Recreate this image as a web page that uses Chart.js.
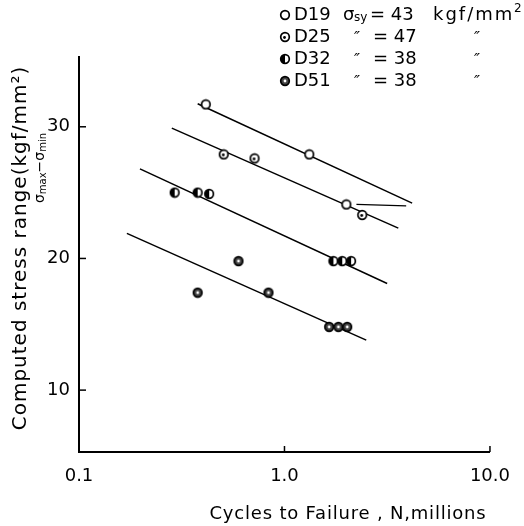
<!DOCTYPE html>
<html><head><meta charset="utf-8">
<script src="https://cdn.jsdelivr.net/npm/chart.js@4.4.1/dist/chart.umd.min.js"></script>
<style>html,body{margin:0;padding:0;background:#fff;}#wrap{position:relative;width:524px;height:526px;}</style>
</head><body><div id="wrap"><canvas id="c" width="524" height="526"></canvas></div>
<script>
// ---- data ----
const seriesNames = ["D19", "D25", "D32", "D51"];
const yieldStress = [43, 47, 38, 38];
const d19Cycles = [0.414, 1.32, 2.0];
const d19Stress = [31.7, 27.9, 24.1];
const d25Cycles = [0.506, 0.715, 2.39];
const d25Stress = [27.9, 27.6, 23.3];
const d32Cycles = [0.292, 0.378, 0.43, 1.73, 1.91, 2.11];
const d32Stress = [25.0, 25.0, 24.9, 19.8, 19.8, 19.8];
const d51Cycles = [0.378, 0.597, 0.836, 1.65, 1.83, 2.02];
const d51Stress = [17.4, 19.8, 17.4, 14.8, 14.8, 14.8];
const fit19Cycles = [0.378, 4.18];
const fit19Stress = [31.75, 24.2];
const fit25Cycles = [0.283, 3.58];
const fit25Stress = [29.9, 22.3];
const fit32Cycles = [0.198, 3.16];
const fit32Stress = [26.8, 18.1];
const fit51Cycles = [0.171, 2.5];
const fit51Stress = [21.9, 13.8];
const pointerCycles = [2.24, 3.91];
const pointerStress = [24.1, 24.0];
const xTickValues = [0.1, 1, 10];
const yTickValues = [10, 20, 30];

const FONT = "'DejaVu Sans', sans-serif";
const pts = (xs, ys) => xs.map((x, i) => ({x: x, y: ys[i]}));

function makeMarker(kind) {
  const c = document.createElement('canvas');
  c.width = 12; c.height = 12;
  const g = c.getContext('2d');
  g.lineWidth = 1.7; g.strokeStyle = '#000';
  g.beginPath(); g.arc(6, 6, 4.3, 0, Math.PI * 2);
  g.fillStyle = kind === 3 ? '#444' : '#fff';
  g.fill(); g.stroke();
  g.fillStyle = kind === 3 ? '#fff' : '#000';
  if (kind === 1) { g.beginPath(); g.arc(5.5, 6.5, 1.4, 0, Math.PI * 2); g.fill(); }
  if (kind === 2) { g.beginPath(); g.arc(6, 6, 4.3, Math.PI * 0.5, Math.PI * 1.5); g.fill(); }
  if (kind === 3) { g.beginPath(); g.arc(6, 6, 1.4, 0, Math.PI * 2); g.fill(); }
  return c;
}
const markers = [0, 1, 2, 3].map(makeMarker);

const lineDs = (xs, ys, w) => ({
  data: pts(xs, ys), showLine: true, pointRadius: 0, borderColor: '#000',
  borderWidth: w || 1.5, fill: false, order: 2
});
const ptDs = (name, xs, ys, k) => ({
  label: name, data: pts(xs, ys), showLine: false, pointStyle: markers[k],
  pointRadius: 5, order: 1
});

function spaced(ctx, px) { try { ctx.letterSpacing = px + 'px'; } catch (e) {} }

const decor = {
  id: 'decor',
  afterDraw(chart) {
    const ctx = chart.ctx, xs = chart.scales.x, ys = chart.scales.y, a = chart.chartArea;
    ctx.save();
    ctx.strokeStyle = '#000'; ctx.lineWidth = 1.5;
    yTickValues.forEach(v => { const p = ys.getPixelForValue(v); ctx.beginPath(); ctx.moveTo(a.left, p); ctx.lineTo(a.left + 7, p); ctx.stroke(); });
    xTickValues.slice(1).forEach(v => { const p = xs.getPixelForValue(v); ctx.beginPath(); ctx.moveTo(p, a.bottom); ctx.lineTo(p, a.bottom - 6); ctx.stroke(); });
    ctx.fillStyle = '#000';
    // x title
    ctx.font = '18px ' + FONT; ctx.textAlign = 'center'; ctx.textBaseline = 'middle';
    spaced(ctx, 0.8);
    ctx.fillText('Cycles to Failure , N,millions', 348, 514);
    // y title
    ctx.save(); ctx.translate(21, 248); ctx.rotate(-Math.PI / 2);
    ctx.font = '20px ' + FONT; spaced(ctx, 1);
    ctx.fillText('Computed stress range(kgf/mm\u00B2)', 0, 0);
    ctx.restore();
    // y sub title  σmax − σmin
    ctx.save(); ctx.translate(40, 168); ctx.rotate(-Math.PI / 2);
    spaced(ctx, 0); ctx.textAlign = 'left';
    const parts = [['\u03C3', 14, 0], ['max', 10, 3], ['\u2212', 14, 0], ['\u03C3', 14, 0], ['min', 10, 3]];
    let tw = 0;
    parts.forEach(p => { ctx.font = p[1] + 'px ' + FONT; tw += ctx.measureText(p[0]).width; });
    let cx = -tw / 2;
    parts.forEach(p => { ctx.font = p[1] + 'px ' + FONT; ctx.fillText(p[0], cx, p[2]); cx += ctx.measureText(p[0]).width; });
    ctx.restore();
    // legend
    ctx.textBaseline = 'middle'; ctx.textAlign = 'left';
    seriesNames.forEach((n, i) => {
      const y = 15 + i * 22;
      ctx.drawImage(markers[i], 279, y - 6);
      spaced(ctx, 0);
      ctx.font = '18px ' + FONT;
      ctx.fillText(n, 294, y);
      if (i === 0) {
        ctx.fillText('\u03C3', 343, y);
        ctx.font = '12px ' + FONT; ctx.fillText('sy', 354, y + 3);
        ctx.font = '18px ' + FONT;
        ctx.fillText('= ' + yieldStress[i], 370, y);
        spaced(ctx, 2);
        ctx.fillText('kgf/mm', 433, y);
        spaced(ctx, 0);
        ctx.font = '12px ' + FONT; ctx.fillText('2', 514, y - 6);
      } else {
        ctx.font = 'italic 16px ' + FONT;
        ctx.fillText('\u2033', 354, y + 2);
        ctx.font = '18px ' + FONT;
        ctx.fillText('= ' + yieldStress[i], 373, y);
        ctx.font = 'italic 16px ' + FONT;
        ctx.fillText('\u2033', 474, y + 2);
      }
    });
    ctx.restore();
  }
};

new Chart(document.getElementById('c'), {
  type: 'scatter',
  data: {
    datasets: [
      ptDs(seriesNames[0], d19Cycles, d19Stress, 0),
      ptDs(seriesNames[1], d25Cycles, d25Stress, 1),
      ptDs(seriesNames[2], d32Cycles, d32Stress, 2),
      ptDs(seriesNames[3], d51Cycles, d51Stress, 3),
      lineDs(fit19Cycles, fit19Stress),
      lineDs(fit25Cycles, fit25Stress),
      lineDs(fit32Cycles, fit32Stress),
      lineDs(fit51Cycles, fit51Stress),
      lineDs(pointerCycles, pointerStress, 1.2)
    ]
  },
  options: {
    responsive: false, animation: false, devicePixelRatio: 1,
    layout: {padding: {top: 57, right: 33, bottom: 0, left: 0}},
    plugins: {legend: {display: false}, tooltip: {enabled: false}},
    scales: {
      x: {
        type: 'logarithmic', min: 0.1, max: 10, position: 'bottom',
        grid: {display: false, drawTicks: false},
        border: {display: true, color: '#000', width: 2},
        afterBuildTicks: s => { s.ticks = xTickValues.map(v => ({value: v})); },
        afterFit: s => { s.height = 74; },
        ticks: {color: '#000', font: {family: FONT, size: 18}, padding: 14, autoSkip: false, maxRotation: 0,
          callback: v => Number(v).toFixed(1)}
      },
      y: {
        type: 'linear', min: 5.3, max: 35.3,
        grid: {display: false, drawTicks: false},
        border: {display: true, color: '#000', width: 2},
        afterBuildTicks: s => { s.ticks = yTickValues.map(v => ({value: v})); },
        afterFit: s => { s.width = 79; },
        ticks: {color: '#000', font: {family: FONT, size: 18}, padding: 9, callback: v => String(v)}
      }
    }
  },
  plugins: [decor]
});
</script></body></html>
